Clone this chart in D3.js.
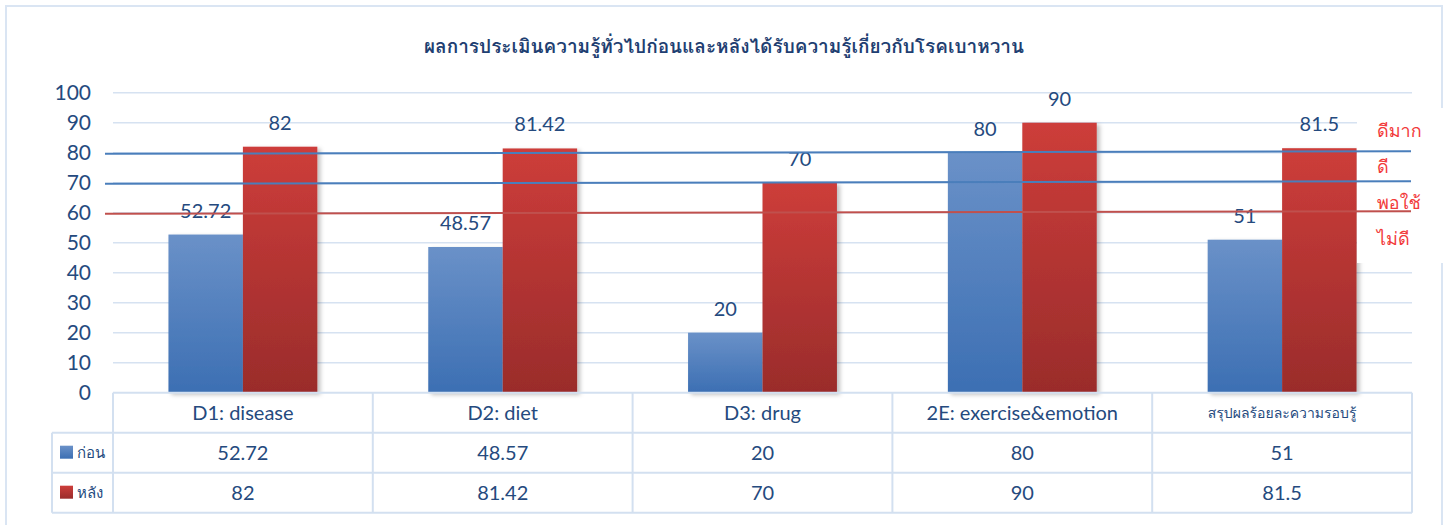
<!DOCTYPE html>
<html>
<head>
<meta charset="utf-8">
<script src="https://cdn.jsdelivr.net/npm/d3@7/dist/d3.min.js"></script>
<style>
  body { margin: 0; background: #fff; }
  svg { display: block; }
  text { font-family: Lato, Loma, Garuda, "Noto Sans Thai Looped", "Noto Sans Thai", "Noto Sans", sans-serif; fill: #254a7e; }
</style>
</head>
<body>
<div id="chart"></div>
<script>
// data
var title = "ผลการประเมินความรู้ทั่วไปก่อนและหลังได้รับความรู้เกี่ยวกับโรคเบาหวาน";
var categories = ["D1: disease", "D2: diet", "D3: drug", "2E: exercise&emotion", "สรุปผลร้อยละความรอบรู้"];
var seriesNames = ["ก่อน", "หลัง"];
var before = [52.72, 48.57, 20, 80, 51];
var after = [82, 81.42, 70, 90, 81.5];
var yTicks = [0, 10, 20, 30, 40, 50, 60, 70, 80, 90, 100];
var levelValues = [80, 70, 60];
var levelLabels = ["ดีมาก", "ดี", "พอใช้", "ไม่ดี"];

var width = 1451, height = 525;
var plotLeft = 113, plotRight = 1412;
var plotTop = 92.7, plotBottom = 392.7;
var legendLeft = 52;
var rowH = 40;

var svg = d3.select("#chart").append("svg")
    .attr("width", width)
    .attr("height", height);

var defs = svg.append("defs");
function gradient(id, top, bottom) {
    var g = defs.append("linearGradient")
        .attr("id", id)
        .attr("x1", 0).attr("y1", 0).attr("x2", 0).attr("y2", 1);
    g.append("stop").attr("offset", "0%").attr("stop-color", top);
    g.append("stop").attr("offset", "100%").attr("stop-color", bottom);
}
gradient("gBlue", "#6a91c8", "#3c6fb3");
gradient("gRed", "#cd3d3a", "#9a2c2b");
var fills = ["url(#gBlue)", "url(#gRed)"];

var shadow = defs.append("filter").attr("id", "shadow")
    .attr("x", "-10%").attr("y", "-10%").attr("width", "130%").attr("height", "130%");
shadow.append("feDropShadow")
    .attr("dx", 3).attr("dy", 2).attr("stdDeviation", 2)
    .attr("flood-color", "#000").attr("flood-opacity", 0.25);

// outer frame
svg.append("rect")
    .attr("x", 6).attr("y", 6)
    .attr("width", 1436).attr("height", 530)
    .attr("fill", "none")
    .attr("stroke", "#dae5f3")
    .attr("stroke-width", 2);

svg.append("text")
    .attr("x", 724).attr("y", 53)
    .attr("text-anchor", "middle")
    .attr("font-size", 19)
    .attr("font-weight", "bold")
    .style("fill", "#1f3f72")
    .text(title);

var x = d3.scaleBand().domain(categories).range([plotLeft, plotRight]);
var x1 = d3.scaleBand().domain(seriesNames).range([0, x.bandwidth()]).paddingOuter(0.745);
var y = d3.scaleLinear().domain([0, 100]).range([plotBottom, plotTop]);

// gridlines
svg.append("g")
    .selectAll("line")
    .data(yTicks.filter(d => d > 0))
    .enter().append("line")
    .attr("x1", plotLeft).attr("x2", plotRight)
    .attr("y1", d => y(d)).attr("y2", d => y(d))
    .attr("stroke", "#d6e2f1")
    .attr("stroke-width", 1.5);

svg.append("g")
    .selectAll("text")
    .data(yTicks)
    .enter().append("text")
    .attr("x", 91)
    .attr("y", d => y(d))
    .attr("dy", "0.36em")
    .attr("text-anchor", "end")
    .attr("font-size", 21)
    .text(d => d);

var rows = categories.map((c, i) => [
    { cat: c, s: 0, v: before[i] },
    { cat: c, s: 1, v: after[i] }
]);

var groups = svg.append("g")
    .selectAll("g")
    .data(rows)
    .enter().append("g")
    .attr("transform", (d, i) => `translate(${x(categories[i])},0)`);

groups.selectAll("rect")
    .data(d => d)
    .enter().append("rect")
    .attr("x", d => x1(seriesNames[d.s]))
    .attr("y", d => y(d.v))
    .attr("width", x1.bandwidth())
    .attr("height", d => y(0) - y(d.v))
    .attr("fill", d => fills[d.s])
    .attr("filter", "url(#shadow)");

groups.selectAll("text")
    .data(d => d)
    .enter().append("text")
    .attr("x", d => x1(seriesNames[d.s]) + x1.bandwidth() / 2)
    .attr("y", d => y(d.v) - 17)
    .attr("text-anchor", "middle")
    .attr("font-size", 20)
    .text(d => d.v);

// white text box of level names
svg.append("rect")
    .attr("x", 1357).attr("y", 108)
    .attr("width", 90).attr("height", 155)
    .attr("fill", "#fff");

// level lines
svg.append("g")
    .selectAll("line")
    .data(levelValues)
    .enter().append("line")
    .attr("x1", 105).attr("x2", 1411)
    .attr("y1", d => y(d) + 1).attr("y2", d => y(d) - 1.5)
    .attr("stroke", (d, i) => i == 2 ? "#c0504d" : "#4a7ebb")
    .attr("stroke-width", 2);

svg.append("g")
    .selectAll("text")
    .data(levelLabels)
    .enter().append("text")
    .attr("x", 1377)
    .attr("y", (d, i) => y(levelValues[0]) - 22 + i * 36)
    .attr("dy", "0.36em")
    .attr("font-size", 18)
    .style("fill", "#f23b3b")
    .text(d => d);

// data table
var table = svg.append("g");
var tableTop = plotBottom;
var lineColour = "#d3e0f0";
table.selectAll("line.h")
    .data([0, 1, 2, 3])
    .enter().append("line")
    .attr("x1", d => d == 0 ? plotLeft : legendLeft)
    .attr("x2", plotRight)
    .attr("y1", d => tableTop + d * rowH)
    .attr("y2", d => tableTop + d * rowH)
    .attr("stroke", lineColour)
    .attr("stroke-width", 2);

table.selectAll("line.v")
    .data(categories.map(c => x(c)).concat([plotRight]))
    .enter().append("line")
    .attr("x1", d => d).attr("x2", d => d)
    .attr("y1", tableTop)
    .attr("y2", tableTop + 3 * rowH)
    .attr("stroke", lineColour)
    .attr("stroke-width", 2);

table.append("line")
    .attr("x1", legendLeft).attr("x2", legendLeft)
    .attr("y1", tableTop + rowH).attr("y2", tableTop + 3 * rowH)
    .attr("stroke", lineColour)
    .attr("stroke-width", 2);

table.selectAll("text.cat")
    .data(categories)
    .enter().append("text")
    .attr("x", d => x(d) + x.bandwidth() / 2)
    .attr("y", tableTop + rowH / 2)
    .attr("dy", "0.36em")
    .attr("text-anchor", "middle")
    .attr("font-size", (d, i) => i == 4 ? 14 : 20)
    .text(d => d);

[before, after].forEach(function (values, s) {
    var rowY = tableTop + (s + 1) * rowH + rowH / 2;
    table.append("rect")
        .attr("x", 60).attr("y", rowY - 7)
        .attr("width", 13).attr("height", 13)
        .attr("fill", fills[s]);
    table.append("text")
        .attr("x", 77).attr("y", rowY)
        .attr("dy", "0.36em")
        .attr("font-size", 15)
        .text(seriesNames[s]);
    table.selectAll("text.v" + s)
        .data(values)
        .enter().append("text")
        .attr("x", (d, i) => x(categories[i]) + x.bandwidth() / 2)
        .attr("y", rowY)
        .attr("dy", "0.36em")
        .attr("text-anchor", "middle")
        .attr("font-size", 20)
        .text(d => d);
});
</script>
</body>
</html>
